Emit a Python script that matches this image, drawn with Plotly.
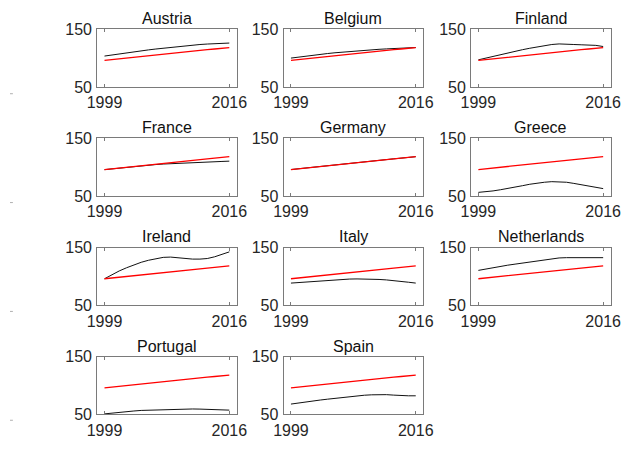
import plotly.graph_objects as go

years = list(range(1999, 2017))

benchmark = [96.0, 97.4, 98.8, 100.2, 101.6, 103.0, 104.4, 105.7, 107.0, 108.3,
             109.6, 110.9, 112.1, 113.3, 114.5, 115.7, 116.9, 118.2]

countries = ["Austria", "Belgium", "Finland", "France", "Germany", "Greece",
             "Ireland", "Italy", "Netherlands", "Portugal", "Spain"]

austria = [103.5, 105.5, 107.5, 109.3, 111.0, 112.6, 114.2, 115.7, 117.2, 118.6,
           120.0, 121.3, 122.5, 123.5, 124.3, 125.0, 125.5, 126.0]
belgium = [100.0, 101.8, 103.5, 105.0, 106.5, 107.9, 109.2, 110.4, 111.5, 112.5,
           113.5, 114.4, 115.2, 115.9, 116.5, 117.0, 117.6, 118.3]
finland = [97.0, 100.0, 103.5, 106.5, 109.5, 112.0, 114.5, 117.0, 119.5, 121.5,
           123.5, 124.5, 124.5, 123.5, 123.0, 122.5, 122.0, 120.0]
france = [95.8, 97.2, 98.6, 100.0, 101.3, 102.5, 103.6, 104.6, 105.5, 106.2,
          106.8, 107.4, 108.0, 108.5, 109.0, 109.5, 110.0, 110.5]
germany = [96.0, 97.4, 98.8, 100.2, 101.6, 103.0, 104.4, 105.7, 107.0, 108.3,
           109.6, 110.9, 112.1, 113.3, 114.5, 115.7, 116.9, 118.2]
greece = [56.5, 57.5, 59.0, 61.0, 63.0, 65.5, 68.0, 70.5, 72.5, 74.0,
          75.0, 75.0, 74.0, 72.0, 69.5, 67.0, 65.0, 63.0]
ireland = [96.0, 103.0, 109.5, 115.0, 120.0, 124.5, 128.0, 131.0, 133.0, 133.5,
           132.0, 130.5, 130.0, 130.0, 131.0, 134.0, 138.0, 142.5]
italy = [88.5, 89.5, 90.5, 91.5, 92.5, 93.5, 94.3, 95.0, 95.5, 95.7,
         95.7, 95.4, 94.8, 94.0, 93.0, 91.5, 90.0, 88.5]
netherlands = [110.5, 113.0, 115.5, 117.5, 119.5, 121.3, 123.0, 124.7, 126.5, 128.5,
               130.5, 132.0, 132.5, 132.5, 132.5, 132.5, 132.5, 132.5]
portugal = [51.0, 52.5, 54.0, 55.0, 56.0, 57.0, 57.5, 58.0, 58.5, 59.0,
            59.3, 59.5, 59.5, 59.3, 59.0, 58.0, 57.5, 57.5]
spain = [68.0, 70.0, 72.0, 73.5, 75.0, 76.5, 78.0, 79.5, 81.0, 82.3,
         83.3, 84.0, 84.3, 84.3, 83.5, 82.5, 82.3, 82.3]

country_series = [austria, belgium, finland, france, germany, greece,
                  ireland, italy, netherlands, portugal, spain]

x_ticks = [1999, 2016]
y_ticks = [50, 150]
x_range = [1998, 2017]
y_range = [50, 150]

W, H = 636, 462
col_left = [90, 282.5, 476]
row_top = [22, 135.3, 248.7, 362]
box_w, box_h = 144, 60

fig = go.Figure()
annotations = []
shapes = []

for i, (name, vals) in enumerate(zip(countries, country_series)):
    r, c = divmod(i, 3)
    n = i + 1
    xa = "x" if n == 1 else f"x{n}"
    ya = "y" if n == 1 else f"y{n}"
    fig.add_trace(go.Scatter(x=years, y=vals, mode="lines",
                             line=dict(color="#111111", width=1),
                             xaxis=xa, yaxis=ya, showlegend=False))
    fig.add_trace(go.Scatter(x=years, y=benchmark, mode="lines",
                             line=dict(color="#ff0000", width=1.3),
                             xaxis=xa, yaxis=ya, showlegend=False))
    x0 = col_left[c] / W
    x1 = (col_left[c] + box_w) / W
    y1 = 1 - row_top[r] / H
    y0 = 1 - (row_top[r] + box_h) / H
    axcommon = dict(showline=True, mirror="allticks", linecolor="#7a7a7a",
                    linewidth=1, ticks="inside", ticklen=3, tickcolor="#7a7a7a",
                    showgrid=False, zeroline=False,
                    tickfont=dict(family="Liberation Sans, Arial", size=16, color="#262626"))
    fig.layout[f"xaxis{'' if n == 1 else n}"] = dict(
        domain=[x0, x1], range=x_range, tickvals=x_ticks, anchor=ya,
        ticklabelstandoff=1, **axcommon)
    fig.layout[f"yaxis{'' if n == 1 else n}"] = dict(
        domain=[y0, y1], range=y_range, tickvals=y_ticks, anchor=xa,
        ticklabelstandoff=1, **axcommon)
    annotations.append(dict(text=name, x=(x0 + x1) / 2, y=1 - (row_top[r] - 11) / H,
                            xref="paper", yref="paper", xanchor="center", yanchor="middle",
                            showarrow=False,
                            font=dict(family="Liberation Sans, Arial", size=16, color="#111111")))

for yp in [89, 202, 315, 428]:
    shapes.append(dict(type="line", xref="paper", yref="paper",
                       x0=0, x1=3 / W, y0=1 - yp / H, y1=1 - yp / H,
                       line=dict(color="#b0b0b0", width=1)))

fig.update_layout(width=W, height=H, margin=dict(l=0, r=0, t=0, b=0),
                  paper_bgcolor="white", plot_bgcolor="white",
                  annotations=annotations, shapes=shapes)

fig.write_html("out.html")
